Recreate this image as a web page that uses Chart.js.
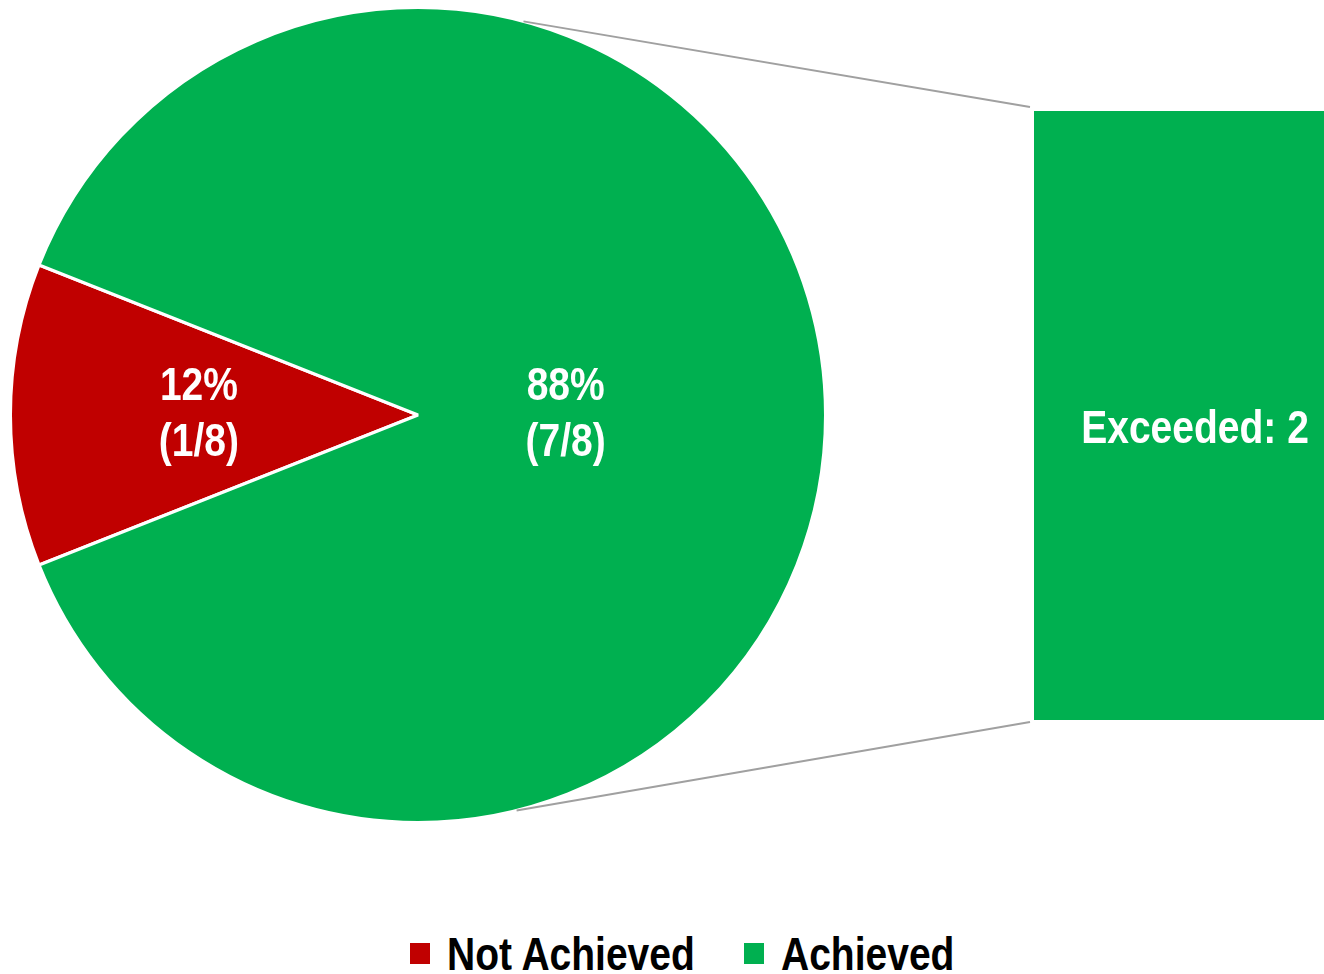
<!DOCTYPE html>
<html>
<head>
<meta charset="utf-8">
<title>Achievement status</title>
<script src="https://cdn.jsdelivr.net/npm/chart.js@4.4.1/dist/chart.umd.min.js"></script>
<style>
  html, body { margin: 0; padding: 0; background: #fff; }
  body { width: 1324px; height: 974px; position: relative; overflow: hidden; }
  #pieChart { position: absolute; left: 0; top: 0; }
  #barChart { position: absolute; left: 1034px; top: 111px; }
  #legend {
    position: absolute; left: 410px; top: 926px;
    display: flex; align-items: center; white-space: nowrap;
    font: bold 47px 'Liberation Sans', Arial, sans-serif; color: #000;
  }
  #legend .item { display: flex; align-items: center; margin-right: 49px; }
  #legend .box { width: 20px; height: 21px; margin-right: 17px; }
  #legend .txt { display: inline-block; transform: scaleX(0.83); transform-origin: left center; }
</style>
</head>
<body>
<canvas id="pieChart" width="1324" height="830"></canvas>
<canvas id="barChart" width="322" height="609"></canvas>
<div id="legend"></div>
<script>
// status split shown in the pie
const statusLabels = ['Not Achieved', 'Achieved'];
const statusPercents = [12, 88];
const statusCounts = [1, 7];
// breakdown of the achieved share, shown in the side bar
const exceededLabels = ['Exceeded'];
const exceededCounts = [2];

const FONT = "'Liberation Sans', Arial, sans-serif";
const SQUEEZE = 0.83;   // narrow look for the bold labels
const RED = '#C00000';
const GREEN = '#00B050';

// where each pie label sits, as a fraction of the radius
const labelRadius = [0.54, 0.36];

function narrowText(ctx, text, x, y) {
    ctx.save();
    ctx.translate(x, y);
    ctx.scale(SQUEEZE, 1);
    ctx.fillText(text, 0, 0);
    ctx.restore();
}

const barChart = new Chart(document.getElementById('barChart'), {
    type: 'bar',
    data: {
        labels: exceededLabels,
        datasets: [{
            label: exceededLabels[0],
            data: exceededCounts,
            backgroundColor: GREEN,
            barPercentage: 1,
            categoryPercentage: 1
        }]
    },
    options: {
        responsive: false,
        animation: false,
        layout: { padding: 0 },
        scales: {
            x: { display: false, stacked: true },
            y: { display: false, stacked: true, min: 0, max: exceededCounts.reduce((a, b) => a + b, 0) }
        },
        plugins: { legend: { display: false }, tooltip: { enabled: false } }
    },
    plugins: [{
        id: 'barLabels',
        afterDatasetsDraw(chart) {
            const ctx = chart.ctx;
            const values = chart.data.datasets[0].data;
            ctx.save();
            ctx.fillStyle = '#fff';
            ctx.font = 'bold 47px ' + FONT;
            ctx.textAlign = 'center';
            ctx.textBaseline = 'middle';
            chart.getDatasetMeta(0).data.forEach((bar, i) => {
                const midY = (bar.y + bar.base) / 2;
                narrowText(ctx, chart.data.labels[i] + ': ' + values[i], bar.x, midY + 15);
            });
            ctx.restore();
        }
    }]
});

// gray lines joining the pie to the side bar
const connectors = {
    id: 'connectors',
    afterDraw(chart) {
        const arc = chart.getDatasetMeta(0).data[0];
        const bar = barChart.getDatasetMeta(0).data[0];
        if (!arc || !bar) return;
        const cv = barChart.canvas;
        const left = cv.offsetLeft + bar.x - bar.width / 2;
        const top = cv.offsetTop + Math.min(bar.y, bar.base);
        const bottom = cv.offsetTop + Math.max(bar.y, bar.base);
        const r = arc.outerRadius;
        const a1 = -75 * Math.PI / 180, a2 = 76 * Math.PI / 180;
        const ctx = chart.ctx;
        ctx.save();
        ctx.strokeStyle = '#A0A0A0';
        ctx.lineWidth = 2;
        ctx.beginPath();
        ctx.moveTo(arc.x + Math.cos(a1) * r, arc.y + Math.sin(a1) * r);
        ctx.lineTo(left - 4, top - 4);
        ctx.moveTo(arc.x + Math.cos(a2) * r, arc.y + Math.sin(a2) * r);
        ctx.lineTo(left - 4, bottom + 2);
        ctx.stroke();
        ctx.restore();
    }
};

const sliceLabels = {
    id: 'sliceLabels',
    afterDatasetsDraw(chart) {
        const ctx = chart.ctx;
        const values = chart.data.datasets[0].data;
        const total = statusCounts.reduce((a, b) => a + b, 0);
        ctx.save();
        ctx.fillStyle = '#fff';
        ctx.font = 'bold 47px ' + FONT;
        ctx.textAlign = 'center';
        ctx.textBaseline = 'middle';
        chart.getDatasetMeta(0).data.forEach((arc, i) => {
            const mid = (arc.startAngle + arc.endAngle) / 2;
            const rr = arc.outerRadius * labelRadius[i];
            const cx = arc.x + Math.cos(mid) * rr;
            const cy = arc.y + Math.sin(mid) * rr;
            narrowText(ctx, values[i] + '%', cx + 1, cy - 28);
            narrowText(ctx, '(' + statusCounts[i] + '/' + total + ')', cx + 1, cy + 28);
        });
        ctx.restore();
    }
};

// start angle chosen so the small slice is centred on the left
const pieChart = new Chart(document.getElementById('pieChart'), {
    type: 'pie',
    data: {
        labels: statusLabels,
        datasets: [{
            data: statusPercents,
            backgroundColor: [RED, GREEN],
            borderColor: '#fff',
            borderWidth: 3
        }]
    },
    options: {
        responsive: false,
        animation: false,
        rotation: 270 - statusPercents[0] * 3.6 / 2,
        layout: { padding: { left: 6, top: 6, bottom: 6, right: 494 } },
        plugins: { legend: { display: false }, tooltip: { enabled: false } }
    },
    plugins: [connectors, sliceLabels]
});

// html legend built from the pie's own legend items
const legendEl = document.getElementById('legend');
pieChart.options.plugins.legend.labels.generateLabels(pieChart).forEach(item => {
    const div = document.createElement('div');
    div.className = 'item';
    const box = document.createElement('span');
    box.className = 'box';
    box.style.background = item.fillStyle;
    const txt = document.createElement('span');
    txt.className = 'txt';
    txt.textContent = item.text;
    div.appendChild(box);
    div.appendChild(txt);
    legendEl.appendChild(div);
    // pull back the space the squeezed text no longer uses
    txt.style.marginRight = -(txt.offsetWidth * (1 - SQUEEZE)) + 'px';
});
</script>
</body>
</html>
